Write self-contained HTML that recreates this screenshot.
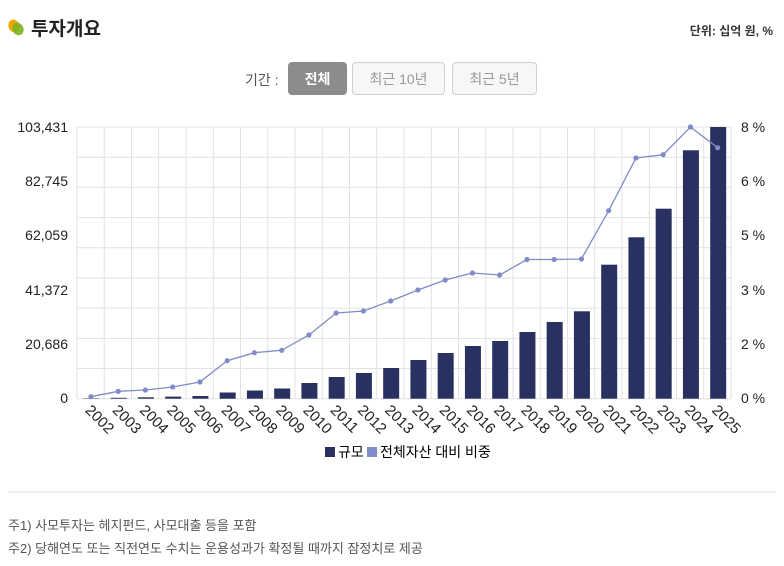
<!DOCTYPE html>
<html><head><meta charset="utf-8"><style>
body{margin:0;width:784px;height:566px;background:#fff;font-family:"Liberation Sans","Noto Sans CJK KR",sans-serif;position:relative;overflow:hidden;color:#222}
.a{position:absolute;white-space:nowrap}
.btn{position:absolute;top:62px;height:33px;border:1px solid #d0d0d0;border-radius:4px;background:#f7f7f7;color:#999;font-size:14px;line-height:33px;text-align:center;box-sizing:border-box}
</style></head><body>
<svg class="a" style="left:6px;top:17px" width="20" height="20"><ellipse cx="8" cy="9" rx="5.5" ry="6.5" fill="#f0a500" transform="rotate(-25 8 9)"/><ellipse cx="12" cy="12" rx="5.5" ry="6.5" fill="#7bb51f" opacity=".9" transform="rotate(-25 12 12)"/></svg>
<div class="a" style="left:31px;top:14px;font-size:19px;font-weight:bold">투자개요</div>
<div class="a" style="right:11px;top:22px;font-size:12px;font-weight:bold;color:#333">단위: 십억 원, %</div>
<div class="a" style="left:245px;top:70px;font-size:14px;color:#555">기간 :</div>
<div class="btn" style="left:288px;width:59px;background:#8c8c8c;border-color:#8c8c8c;color:#fff;font-weight:bold">전체</div>
<div class="btn" style="left:352px;width:93px">최근 10년</div>
<div class="btn" style="left:452px;width:85px">최근 5년</div>
<svg class="a" style="left:0;top:0" width="784" height="566" font-family="Liberation Sans, Noto Sans CJK KR, sans-serif">
<g id="g" stroke="#e2e2e2" stroke-width="1"></g>
<g id="b" fill="#283160"></g>
<polyline id="l" fill="none" stroke="#7f8cc8" stroke-width="1.3"/>
<g id="p" fill="#7f8cc8"></g>
<g font-size="14" fill="#222" text-anchor="end">
<text x="68" y="132">103,431</text><text x="68" y="186">82,745</text><text x="68" y="240">62,059</text><text x="68" y="295">41,372</text><text x="68" y="349">20,686</text><text x="68" y="403">0</text>
</g>
<g font-size="14" fill="#222">
<text x="741" y="132">8 %</text><text x="741" y="186">6 %</text><text x="741" y="240">5 %</text><text x="741" y="295">3 %</text><text x="741" y="349">2 %</text><text x="741" y="403">0 %</text>
</g>
<g id="x" font-size="15" fill="#222"></g>
<rect x="325" y="447" width="10" height="10" fill="#283160"/><text x="338" y="457" font-size="14">규모</text>
<rect x="367" y="447" width="10" height="10" fill="#7f8cc8"/><text x="380" y="457" font-size="14">전체자산 대비 비중</text>
<line x1="8" y1="492" x2="776" y2="492" stroke="#ddd"/>
<text x="8" y="530" font-size="13" fill="#555">주1) 사모투자는 헤지펀드, 사모대출 등을 포함</text>
<text x="8" y="553" font-size="13" fill="#555">주2) 당해연도 또는 직전연도 수치는 운용성과가 확정될 때까지 잠정치로 제공</text>
</svg>
<script>
var L=77,W=27.25,T=127,B=398.7,ns="http://www.w3.org/2000/svg";
function el(t,a,p){var e=document.createElementNS(ns,t);for(var k in a)e.setAttribute(k,a[k]);document.getElementById(p).appendChild(e);return e}
for(var i=0;i<=24;i++)el("line",{x1:L+i*W,y1:T,x2:L+i*W,y2:B},"g");
for(var j=0;j<=9;j++){var y=T+j*(B-T)/9;el("line",{x1:L,y1:y,x2:L+24*W,y2:y},"g")}
var bt=[398.3,397.8,397.3,396.6,396,392.5,390.5,388.5,383,377,373,368,360,353,346,341,332,322,311.3,264.7,237.3,208.7,150.3,127];
var lt=[396.7,391.3,390,387,382,360.7,352.7,350.3,335,313,311,301,290,280,273,275,259.5,259.5,259,210.7,158,154.7,127,147.7];
var pts=[];
for(var i=0;i<24;i++){var c=L+(i+.5)*W+.8;
el("rect",{x:c-8,y:bt[i],width:16,height:B-bt[i]},"b");
pts.push((c-.5)+","+lt[i]);el("circle",{cx:c-.5,cy:lt[i],r:2.6},"p");
var t=el("text",{x:0,y:0,transform:"translate("+(c-7)+","+(411)+") rotate(45)"},"x");t.textContent=2002+i;}
document.getElementById("l").setAttribute("points",pts.join(" "));
</script>
</body></html>
